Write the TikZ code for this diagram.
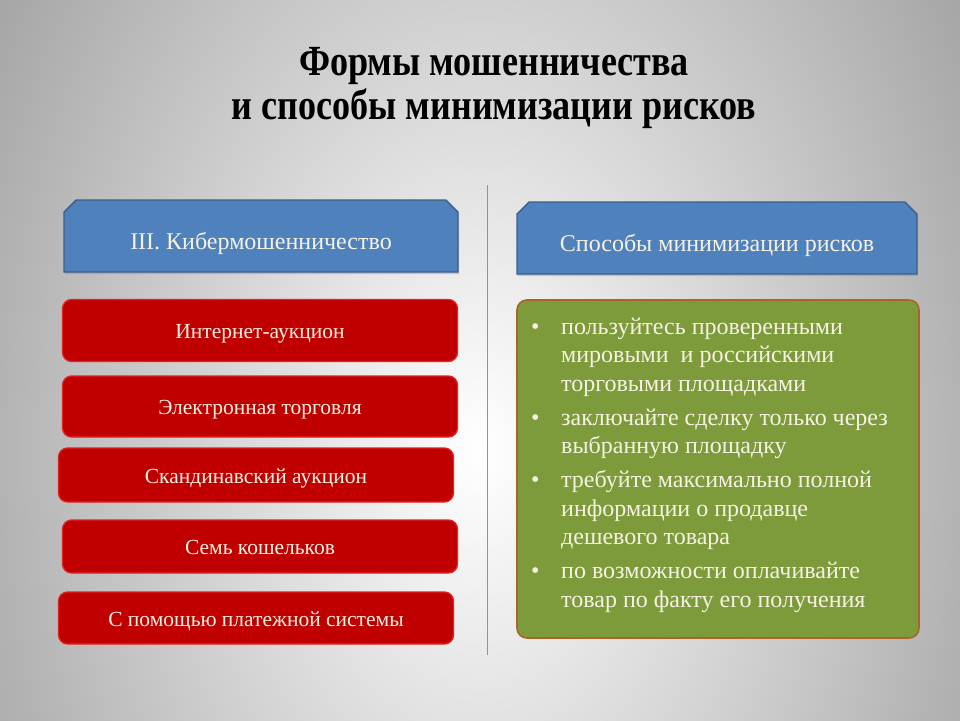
\documentclass[tikz,border=0pt]{standalone}
\usepackage{fontspec}
\setmainfont{Liberation Serif}
\newfontfamily\titlefont[FakeStretch=0.84]{Liberation Serif}
\usetikzlibrary{shapes.misc,shadows}
\definecolor{hdrblue}{HTML}{4F81BD}
\definecolor{hdredge}{HTML}{3A5F8C}
\definecolor{boxred}{HTML}{C00000}
\definecolor{redrim}{HTML}{E42222}
\definecolor{tipgreen}{HTML}{7E9B3B}
\definecolor{rimbrown}{HTML}{A8652A}
\definecolor{paper}{HTML}{F6F2E2}
\definecolor{divline}{HTML}{7F97B5}
\tikzset{
	header/.style={chamfered rectangle,chamfered rectangle corners={north west,north east},
		chamfered rectangle xsep=9pt,draw=hdredge,line width=1.4pt,fill=hdrblue,text=paper,
		font=\fontsize{24}{28}\selectfont,text height=32pt,text depth=5pt,
		minimum width=394pt,minimum height=72pt,inner sep=0pt,
		drop shadow={shadow xshift=1pt,shadow yshift=-2pt,opacity=0.35}},
	fraud/.style={rounded corners=9pt,draw=redrim,line width=1.3pt,fill=boxred,text=paper,
		font=\fontsize{21.5}{25}\selectfont,text height=21pt,text depth=5pt,inner sep=0pt},
}
\begin{document}
\begin{tikzpicture}[x=1pt,y=-1pt]
	% background
	\useasboundingbox (0,0) rectangle (960,720);
	\begin{scope}
		\clip (0,0) rectangle (960,720);
		\shade[inner color=white,outer color=black!58] (480,450) ellipse (940 and 1400);
	\end{scope}
	\node[font=\titlefont\bfseries\fontsize{43}{44}\selectfont,align=center] (title) at (494,88)
		{Формы мошенничества\\и способы минимизации рисков};
	\draw[divline,line width=0.8pt] (487,185)--(487,655);
	% headers
	\node[header] (hdrfraud) at (261,236) {III. Кибермошенничество};
	\node[header,minimum width=400pt] (hdrtips) at (717,238) {Способы минимизации рисков};
	% forms of fraud
	\foreach \i/\x/\y/\h/\t in {1/260/330.5/62/Интернет-аукцион,
		2/260/406.5/61/Электронная торговля,
		3/256/475/54/Скандинавский аукцион,
		4/260/546.5/53/Семь кошельков,
		5/256/618/52/С помощью платежной системы}
	\node[fraud,minimum width=395pt,minimum height=\h pt] (fraud\i) at (\x,\y) {\t};
	% ways to reduce risks
	\node[rounded corners=10pt,draw=rimbrown,line width=1.6pt,fill=tipgreen,
		minimum width=402pt,minimum height=338pt] (tipsbox) at (718,469) {};
	\node[anchor=north west,inner sep=0pt,text=paper,font=\fontsize{24}{28.5}\selectfont] (tips)
		at (531,314) {\begin{tabular}{@{}p{30pt}@{}l@{}}
			•&пользуйтесь проверенными\\
			&мировыми~ и российскими\\
			&торговыми площадками\\[5.5pt]
			•&заключайте сделку только через\\
			&выбранную площадку\\[5.5pt]
			•&требуйте максимально полной\\
			&информации о продавце\\
			&дешевого товара\\[5.5pt]
			•&по возможности оплачивайте\\
			&товар по факту его получения
		\end{tabular}};
\end{tikzpicture}
\end{document}
